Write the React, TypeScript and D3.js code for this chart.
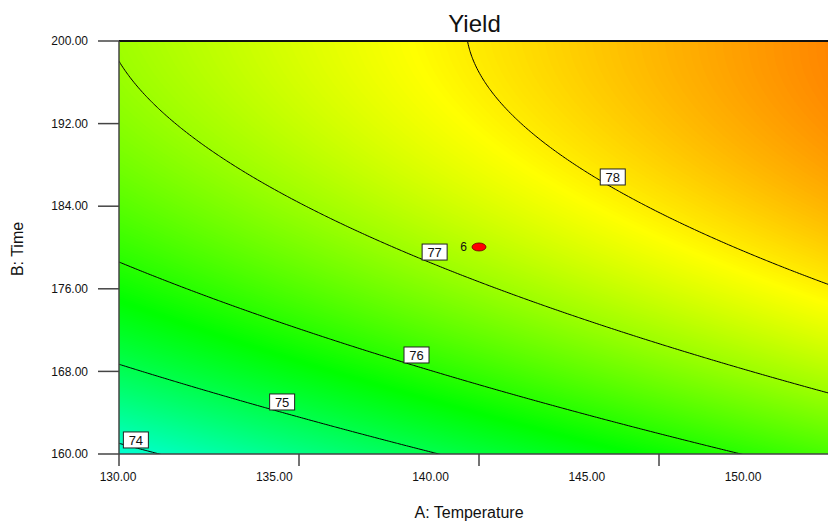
import React, { useMemo } from 'react';
import * as d3 from 'd3';

// ---- data ----
const xTickLabels = [130, 135, 140, 145, 150];
const xTickMarks = [130, 135.76, 141.52, 147.28];
const yTicks = [160, 168, 176, 184, 192, 200];
const contourLevels = [74, 75, 76, 77, 78];
const contourLabelA = [130.54, 135.22, 139.52, 140.1, 145.8];
const contourLabelB = [161.36, 165.04, 169.59, 179.56, 186.83];
// fitted quadratic model in coded units: intercept, A, B, AB, A^2, B^2
const modelCoefs = [77.115, 0.955, 1.465, -0.125, -0.045, -0.675];
const codedCenter = [140, 180];
const codedHalfRange = [10, 20];
const designPointA = [141.52];
const designPointB = [180.05];
const designPointLabel = ['6'];
const colorStops = [71.27, 73.46, 75.66, 77.85, 80.05];
const colorRange = ['#0000ff', '#00ffff', '#00ff00', '#ffff00', '#ff0000'];

const W = 828;
const H = 522;
const FONT = '"Liberation Sans", Arial, Helvetica, sans-serif';

function yieldAt(A: number, B: number) {
  const u = (A - codedCenter[0]) / codedHalfRange[0];
  const v = (B - codedCenter[1]) / codedHalfRange[1];
  const [b0, b1, b2, b12, b11, b22] = modelCoefs;
  return b0 + b1 * u + b2 * v + b12 * u * v + b11 * u * u + b22 * v * v;
}

export default function App() {
  const left = 119;
  const top = 41;
  const bottom = 454;
  const right = 830;
  const x = d3.scaleLinear().domain([130, 130 + (right - left) / 31.25]).range([left, right]);
  const y = d3.scaleLinear().domain([160, 200]).range([bottom, top]);
  const color = d3.scaleLinear<string>().domain(colorStops).range(colorRange).clamp(true);

  const { fills, lines, path } = useMemo(() => {
    const A0 = 129, A1 = 154, B0 = 157, B1 = 203;
    const nx = 320, ny = 200;
    const dA = (A1 - A0) / nx, dB = (B1 - B0) / ny;
    const values = new Array(nx * ny);
    for (let j = 0; j < ny; j++) {
      const B = B1 - (j + 0.5) * dB;
      for (let i = 0; i < nx; i++) {
        const A = A0 + (i + 0.5) * dA;
        values[j * nx + i] = yieldAt(A, B);
      }
    }
    const fillThresholds = d3.range(72.5, 79.8, 0.02);
    const fills = d3.contours().size([nx, ny]).thresholds(fillThresholds)(values);
    const lines = d3.contours().size([nx, ny]).thresholds(contourLevels)(values);
    const path = d3.geoPath(
      d3.geoTransform({
        point(px: number, py: number) {
          (this as any).stream.point(x(A0 + px * dA), y(B1 - py * dB));
        },
      })
    );
    return { fills, lines, path };
  }, []);

  return (
    <svg
      width={W}
      height={H}
      style={{ position: 'absolute', left: 0, top: 0, background: '#fff' }}
      fontFamily={FONT}
    >
      <defs>
        <clipPath id="plotClip">
          <rect x={left} y={top} width={right - left} height={bottom - top} />
        </clipPath>
      </defs>
      <g clipPath="url(#plotClip)">
        {fills.map((c, i) => (
          <path key={i} d={path(c as any) || ''} fill={color(c.value + 0.01)} stroke="none" />
        ))}
        {lines.map((c, i) => (
          <path key={'l' + i} d={path(c as any) || ''} fill="none" stroke="#000" strokeWidth={1} />
        ))}
      </g>
      {/* frame */}
      <line x1={left} x2={W} y1={top} y2={top} stroke="#111" strokeWidth={2} />
      <line x1={left} x2={left} y1={top} y2={bottom} stroke="#444" strokeWidth={1.5} />
      <line x1={left} x2={W} y1={bottom} y2={bottom} stroke="#444" strokeWidth={1.5} />
      {/* y axis */}
      {yTicks.map((t) => (
        <g key={t}>
          <line x1={98} x2={left} y1={y(t)} y2={y(t)} stroke="#444" strokeWidth={1.5} />
          <text x={88} y={y(t)} dy="0.35em" textAnchor="end" fontSize={12} fill="#111">
            {t.toFixed(2)}
          </text>
        </g>
      ))}
      {/* x axis */}
      {xTickMarks.map((t) => (
        <line key={t} x1={x(t)} x2={x(t)} y1={bottom} y2={bottom + 12} stroke="#444" strokeWidth={1.5} />
      ))}
      {xTickLabels.map((t) => (
        <text key={t} x={x(t) - 1} y={481} textAnchor="middle" fontSize={12} fill="#111">
          {t.toFixed(2)}
        </text>
      ))}
      {/* contour labels */}
      {contourLevels.map((lv, i) => {
        const cx = x(contourLabelA[i]);
        const cy = y(contourLabelB[i]);
        return (
          <g key={'lab' + lv}>
            <rect x={cx - 12.5} y={cy - 8} width={25} height={16} fill="#fff" stroke="#222" strokeWidth={1} />
            <text x={cx} y={cy} dy="0.36em" textAnchor="middle" fontSize={13} fill="#111">
              {lv}
            </text>
          </g>
        );
      })}
      {/* design points */}
      {designPointA.map((a, i) => (
        <g key={'dp' + i}>
          <ellipse cx={x(a)} cy={y(designPointB[i])} rx={7} ry={4} fill="#ff0000" stroke="#600" strokeWidth={0.8} />
          <text x={x(a) - 12} y={y(designPointB[i])} dy="0.35em" textAnchor="end" fontSize={12} fill="#111">
            {designPointLabel[i]}
          </text>
        </g>
      ))}
      {/* titles */}
      <text x={474.5} y={32} textAnchor="middle" fontSize={24} fill="#111">
        Yield
      </text>
      <text x={469} y={518} textAnchor="middle" fontSize={16} fill="#111">
        A: Temperature
      </text>
      <text
        transform={`translate(23, 249) rotate(-90)`}
        textAnchor="middle"
        fontSize={16}
        fill="#111"
      >
        B: Time
      </text>
    </svg>
  );
}
